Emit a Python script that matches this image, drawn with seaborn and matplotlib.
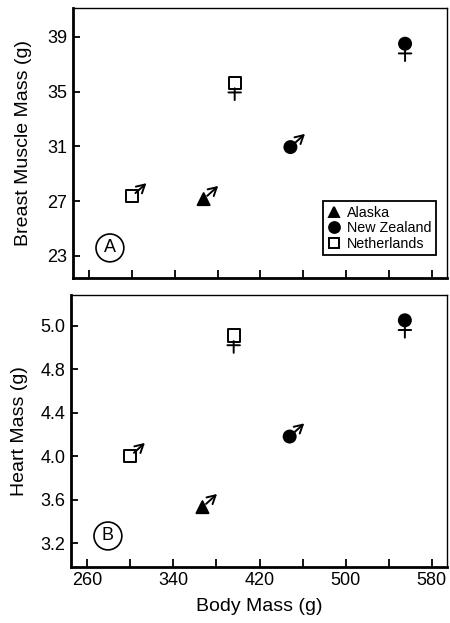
import matplotlib
matplotlib.use('Agg')
import matplotlib.pyplot as plt
from matplotlib.transforms import ScaledTranslation
import seaborn as sns
import pandas as pd

# data
country = ['Netherlands', 'Alaska', 'Netherlands', 'New Zealand', 'New Zealand']
sex = ['male', 'male', 'female', 'male', 'female']
body_mass = [300, 367, 396, 448, 555]
breast_muscle = [27.35, 27.15, 35.65, 30.95, 38.5]
heart_mass = [4.0, 3.53, 5.11, 4.18, 5.25]

x_ticks = [260, 340, 420, 500, 580]
x_minor = [300, 380, 460, 540]
a_ticks = [23, 27, 31, 35, 39]
b_ticks = [3.2, 3.6, 4.0, 4.4, 4.8, 5.2]
b_labels = ['3.2', '3.6', '4.0', '4.4', '4.8', '5.0']  # as printed in the original

order = ['Alaska', 'New Zealand', 'Netherlands']
palette = {'Alaska': 'black', 'New Zealand': 'black', 'Netherlands': 'white'}
markers = {'Alaska': '^', 'New Zealand': 'o', 'Netherlands': 's'}

df = pd.DataFrame({'country': country, 'sex': sex, 'body': body_mass,
                   'breast': breast_muscle, 'heart': heart_mass})

sns.set_style('ticks', {'text.color': 'black', 'axes.labelcolor': 'black',
                        'axes.edgecolor': 'black', 'xtick.color': 'black',
                        'ytick.color': 'black'})
plt.rcParams['font.family'] = ['Liberation Sans', 'DejaVu Sans']
plt.rcParams['font.size'] = 13

fig = plt.figure(figsize=(4.5, 6.23), dpi=100)
axA = fig.add_axes([0.162, 0.554, 0.831, 0.433])
axB = fig.add_axes([0.158, 0.090, 0.835, 0.436])


def sex_symbols(ax, d, ycol):
    for _, r in d.iterrows():
        x, y = r['body'], r[ycol]
        if r['sex'] == 'male':
            ax.annotate('', xy=(x, y), xytext=(10.5, 9.5), textcoords='offset points',
                        arrowprops=dict(arrowstyle='<-,head_length=0.45,head_width=0.25',
                                        lw=1.4, color='black', shrinkA=0, shrinkB=3.5))
        else:
            ax.annotate('', xy=(x, y), xytext=(0, -12.5), textcoords='offset points',
                        arrowprops=dict(arrowstyle='-', lw=1.4, color='black',
                                        shrinkA=0, shrinkB=4))
            tr = ax.transData + ScaledTranslation(-4.5 / 72, -7 / 72, fig.dpi_scale_trans)
            ax.annotate('', xy=(x, y), xycoords=tr, xytext=(9, 0), textcoords='offset points',
                        arrowprops=dict(arrowstyle='-', lw=1.4, color='black',
                                        shrinkA=0, shrinkB=0))


for ax, ycol in [(axA, 'breast'), (axB, 'heart')]:
    sns.scatterplot(data=df, x='body', y=ycol, hue='country', style='country',
                    hue_order=order, style_order=order, palette=palette,
                    markers=markers, s=75, edgecolor='black', linewidth=1.4,
                    ax=ax, zorder=3)
    sex_symbols(ax, df, ycol)
    ax.set_xlim(245, 594)
    ax.set_xticks(x_ticks)
    ax.set_xticks(x_minor, minor=True)
    ax.tick_params(axis='both', which='both', direction='in', width=1.3,
                   labelsize=13, pad=4, colors='black')
    ax.tick_params(axis='x', which='both', length=6)
    ax.tick_params(axis='y', length=5)
    for side in ['top', 'right']:
        ax.spines[side].set_linewidth(1.0)
    for side in ['left', 'bottom']:
        ax.spines[side].set_linewidth(2.0)

# panel A
axA.set_ylim(21.4, 41.1)
axA.set_yticks(a_ticks)
axA.set_xticklabels([])
axA.set_xlabel('')
axA.set_ylabel('Breast Muscle Mass (g)', fontsize=14, labelpad=11)
handles, labels = axA.get_legend_handles_labels()
axA.legend(handles, labels, loc='lower right', bbox_to_anchor=(0.97, 0.085),
           borderaxespad=0, frameon=True, fancybox=False, edgecolor='black',
           framealpha=1, fontsize=10.3, labelspacing=0.1, handletextpad=0.4,
           borderpad=0.3, handlelength=1.0, markerscale=0.9)
axA.get_legend().get_frame().set_linewidth(1.3)
axA.text(0.099, 0.111, 'A', transform=axA.transAxes, ha='center', va='center',
         fontsize=13, bbox=dict(boxstyle='circle,pad=0.3', fc='white', ec='black', lw=1.2))

# panel B
axB.set_ylim(2.98, 5.48)
axB.set_yticks(b_ticks, b_labels)
axB.set_xlabel('Body Mass (g)', fontsize=14, labelpad=6)
axB.set_ylabel('Heart Mass (g)', fontsize=14, labelpad=9)
axB.get_legend().remove()
axB.text(0.098, 0.114, 'B', transform=axB.transAxes, ha='center', va='center',
         fontsize=13, bbox=dict(boxstyle='circle,pad=0.3', fc='white', ec='black', lw=1.2))

fig.savefig('out.png', dpi=100)
